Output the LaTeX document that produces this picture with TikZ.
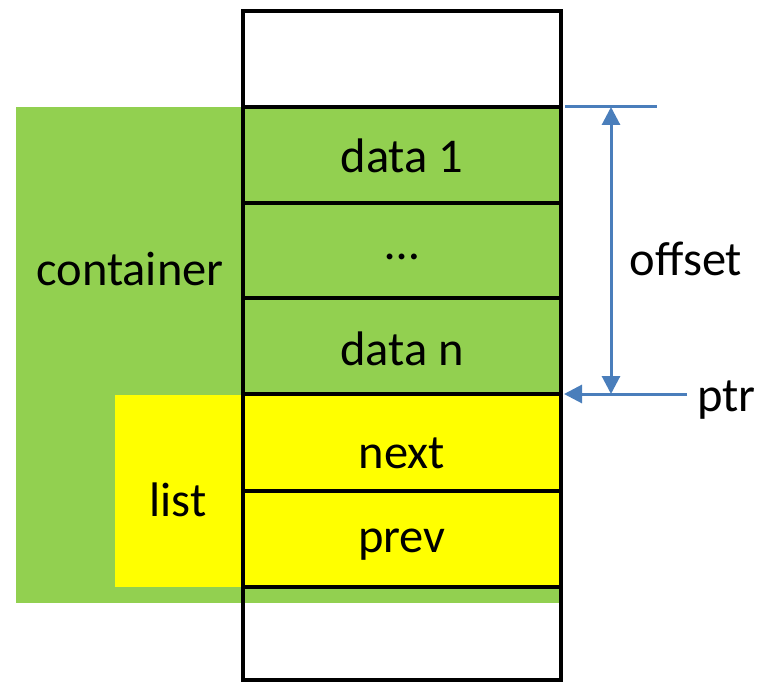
\documentclass[tikz,border=0pt]{standalone}
\usepackage{fontspec}
\setmainfont{Carlito}
\usetikzlibrary{arrows.meta}
\definecolor{cgreen}{RGB}{146,208,80}
\definecolor{cyellow}{RGB}{255,255,0}
\definecolor{cblue}{RGB}{74,126,187}
\begin{document}
\begin{tikzpicture}[x=1pt,y=-1pt,
  cell/.style={draw=black,line width=3.5pt,minimum width=318pt,minimum height=96pt,inner sep=0pt,outer sep=0pt},
  lbl/.style={font=\fontsize{48.5}{58}\selectfont,anchor=base,inner sep=0pt},
  bluel/.style={draw=cblue,line width=3pt},
  tip/.style={-{Triangle[length=18pt,width=18pt]}}
]
\useasboundingbox (0,0) rectangle (776,682);
% backgrounds
\fill[cgreen] (16,107) rectangle (561,603);
\fill[cyellow] (115,395) rectangle (561,587);
% cells
\node[cell] (c0) at (402,59) {};
\node[cell] (c1) at (402,155) {};
\node[cell] (c2) at (402,250.5) {};
\node[cell] (c3) at (402,346) {};
\node[cell] (c4) at (402,442.5) {};
\node[cell] (c5) at (402,539) {};
\node[cell,minimum height=93pt] (c6) at (402,633.5) {};
% texts
\node[lbl] (t1) at (402,172) {data 1};
\node[lbl] (t2) at (402,259) {…};
\node[lbl] (t3) at (402,365) {data n};
\node[lbl] (t4) at (402,468) {next};
\node[lbl] (t5) at (402,552) {prev};
\node[lbl] (cont) at (130,285) {container};
\node[lbl] (lst) at (178,516) {list};
\node[lbl] (off) at (686,275) {offset};
\node[lbl,anchor=base west] (ptr) at (697,411) {ptr};
% blue
\coordinate (tl0) at (565,107);
\coordinate (tl1) at (657,107);
\coordinate (oa) at (611,107);
\coordinate (ob) at (611,394);
\coordinate (pa) at (687,394);
\coordinate (pb) at (564,394);
\draw[bluel] (tl0) -- (tl1);
\draw[bluel,{Triangle[length=18pt,width=18pt]}-{Triangle[length=18pt,width=18pt]}] (oa) -- (ob);
\draw[bluel,tip] (pa) -- (pb);
\end{tikzpicture}
\end{document}
